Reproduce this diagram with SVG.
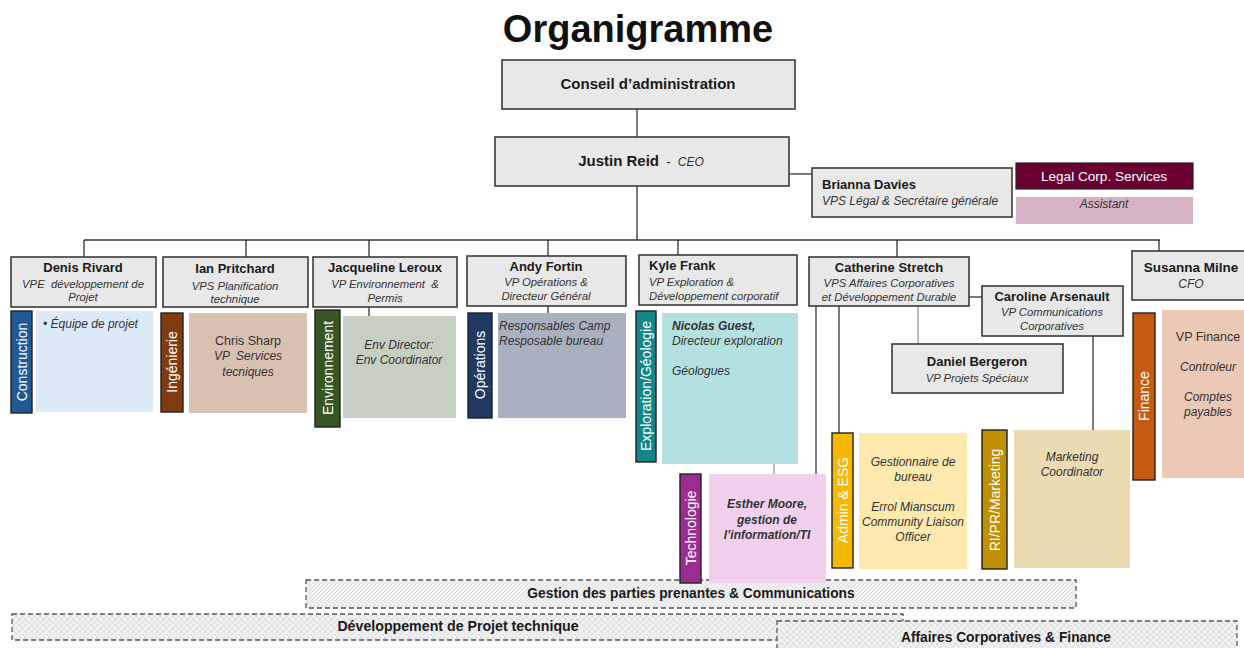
<svg xmlns="http://www.w3.org/2000/svg" width="1244" height="648" viewBox="0 0 1244 648">
<defs>
<pattern id="diag" width="4" height="4" patternUnits="userSpaceOnUse">
<rect width="4" height="4" fill="#f3f3f3"/>
<path d="M-1,1 l2,-2 M0,4 l4,-4 M3,5 l2,-2" stroke="#cfcfcf" stroke-width="0.7"/>
</pattern>
<pattern id="grid" width="6" height="6" patternUnits="userSpaceOnUse">
<rect width="6" height="6" fill="#f2f2f2"/>
<rect x="0" y="0" width="3" height="3" fill="#e2e2e2"/>
<rect x="3" y="3" width="3" height="3" fill="#e6e6e6"/>
</pattern>
</defs>
<style>
text{font-family:"Liberation Sans",Arial,sans-serif;fill:#1a1a1a}
.title{font-size:38px;font-weight:700;fill:#111}
.box{fill:#e8e8e8;stroke:#3a3a3a;stroke-width:1.6}
.nm{font-size:13px;font-weight:700}
.nl{font-size:15px;font-weight:700}
.sb{font-size:11.3px;font-style:italic;fill:#333}
.it{font-size:12px;font-style:italic;fill:#333}
.rg{font-size:12.5px;fill:#333}
.vl{font-size:14px;fill:#fff}
.tab{stroke:#222;stroke-width:1.4}
.band{stroke:#555;stroke-width:1.3;stroke-dasharray:5 3}
.bt{font-size:13.8px;font-weight:700}
.c{fill:none;stroke:#333;stroke-width:1.3}
.cg{fill:none;stroke:#777;stroke-width:1}
.mid{text-anchor:middle}
.pre{white-space:pre}
</style>
<rect width="1244" height="648" fill="#fff"/>
<text class="title mid" x="638" y="42">Organigramme</text>

<g id="bands">
<g id="band-gestion">
<rect class="band" x="306" y="580" width="770" height="28" fill="url(#diag)"/>
<text class="bt mid" x="691" y="598">Gestion des parties prenantes &amp; Communications</text>
</g>
<g id="band-dev">
<rect class="band" x="12" y="614" width="891" height="26" fill="url(#grid)"/>
<text class="bt mid" x="458" y="631" style="font-size:14.2px">Développement de Projet technique</text>
</g>
<g id="band-affaires">
<rect class="band" x="777" y="621" width="460" height="34" fill="url(#grid)"/>
<text class="bt mid" x="1006" y="642">Affaires Corporatives &amp; Finance</text>
</g>
</g>

<g id="connectors">
<path class="c" d="M637,109 V137"/>
<path class="c" d="M789,174 H812"/>
<path class="c" d="M637,186 V240"/>
<path class="c" d="M84,240 H1160"/>
<path class="c" d="M84,240 V257 M246,240 V257 M369,240 V257 M548,240 V256 M678,240 V255 M897,240 V257 M1159,240 V251"/>
<path class="c" d="M369,307 V316 M548,306 V313"/>
<path class="c" d="M969,297 H982"/>
<path class="cg" d="M918,306 V344"/>
<path class="c" d="M816,306 V475"/>
<path class="c" d="M839,306 V433"/>
<path class="c" d="M1093,336 V430"/>
<path class="cg" d="M774,464 V476"/>
</g>

<g id="conseil">
<rect class="box" x="502" y="60" width="293" height="49"/>
<text class="nl mid" x="648" y="89">Conseil d’administration</text>
</g>
<g id="ceo">
<rect class="box" x="495" y="137" width="294" height="49"/>
<text class="mid pre" x="641" y="166" xml:space="preserve"><tspan class="nl">Justin Reid</tspan><tspan font-size="13px">  -  </tspan><tspan class="it">CEO</tspan></text>
</g>
<g id="brianna">
<rect class="box" x="812" y="168" width="200" height="49"/>
<text class="nm" x="822" y="189">Brianna Davies</text>
<text class="it" x="822" y="205">VPS Légal &amp; Secrétaire générale</text>
</g>
<g id="legal">
<rect x="1016" y="163" width="177" height="26" fill="#6a0032" stroke="#222" stroke-width="1.2"/>
<text class="mid" x="1104" y="181" font-size="13.6px" style="fill:#fff">Legal Corp. Services</text>
</g>
<g id="assistant">
<rect x="1016" y="197" width="177" height="27" fill="#d5b2c4"/>
<text class="it mid" x="1104" y="208">Assistant</text>
</g>

<g id="denis">
<rect class="box" x="11" y="257" width="145" height="50"/>
<text class="nm mid" x="83" y="272">Denis Rivard</text>
<text class="sb mid pre" x="83" y="288" xml:space="preserve">VPE  développement de</text>
<text class="sb mid" x="83" y="301">Projet</text>
</g>
<g id="ian">
<rect class="box" x="163" y="257" width="145" height="50"/>
<text class="nm mid" x="235" y="273">Ian Pritchard</text>
<text class="sb mid" x="235" y="290">VPS Planification</text>
<text class="sb mid" x="235" y="303">technique</text>
</g>
<g id="jacqueline">
<rect class="box" x="313" y="257" width="144" height="50"/>
<text class="nm mid" x="385" y="272">Jacqueline Leroux</text>
<text class="sb mid pre" x="385" y="288" xml:space="preserve">VP Environnement  &amp;</text>
<text class="sb mid" x="385" y="302">Permis</text>
</g>
<g id="andy">
<rect class="box" x="467" y="256" width="159" height="50"/>
<text class="nm mid" x="546" y="271">Andy Fortin</text>
<text class="sb mid" x="546" y="286">VP Opérations &amp;</text>
<text class="sb mid" x="546" y="300">Directeur Général</text>
</g>
<g id="kyle">
<rect class="box" x="639" y="255" width="158" height="50"/>
<text class="nm" x="649" y="270">Kyle Frank</text>
<text class="sb" x="649" y="286">VP Exploration &amp;</text>
<text class="sb" x="649" y="300">Développement corporatif</text>
</g>
<g id="catherine">
<rect class="box" x="809" y="257" width="160" height="49"/>
<text class="nm mid" x="889" y="272">Catherine Stretch</text>
<text class="sb mid" x="889" y="287">VPS Affaires Corporatives</text>
<text class="sb mid" x="889" y="301">et Développement Durable</text>
</g>
<g id="caroline">
<rect class="box" x="982" y="286" width="141" height="50"/>
<text class="nm mid" x="1052" y="301">Caroline Arsenault</text>
<text class="sb mid" x="1052" y="316">VP Communications</text>
<text class="sb mid" x="1052" y="330">Corporatives</text>
</g>
<g id="daniel">
<rect class="box" x="892" y="344" width="171" height="49"/>
<text class="nm mid" x="977" y="366">Daniel Bergeron</text>
<text class="sb mid" x="977" y="382">VP Projets Spéciaux</text>
</g>
<g id="susanna">
<rect class="box" x="1132" y="251" width="122" height="49"/>
<text class="nm mid" x="1191" y="272" style="font-size:13.5px">Susanna Milne</text>
<text class="it mid" x="1191" y="288">CFO</text>
</g>

<g id="construction">
<rect class="tab" x="11" y="311" width="21" height="102" fill="#1f5a96"/>
<text class="vl mid" transform="translate(21.5,362) rotate(-90)" dy="5">Construction</text>
</g>
<g id="equipe">
<rect x="36" y="311" width="117" height="101" fill="#dce9f6"/>
<text class="it" x="43" y="328">• Équipe de projet</text>
</g>
<g id="ingenierie">
<rect class="tab" x="161" y="313" width="22" height="99" fill="#7f3c10"/>
<text class="vl mid" transform="translate(172,362) rotate(-90)" dy="5">Ingénierie</text>
</g>
<g id="chris">
<rect x="189" y="313" width="118" height="100" fill="#d8c1b1"/>
<text class="rg mid" x="248" y="345">Chris Sharp</text>
<text class="it mid pre" x="248" y="360" xml:space="preserve">VP  Services</text>
<text class="it mid" x="248" y="376">tecniques</text>
</g>
<g id="environnement">
<rect class="tab" x="315" y="310" width="25" height="117" fill="#375623"/>
<text class="vl mid" transform="translate(327.5,368) rotate(-90)" dy="5">Environnement</text>
</g>
<g id="env">
<rect x="343" y="316" width="113" height="102" fill="#c6cfc1"/>
<text class="it mid" x="399" y="349">Env Director:</text>
<text class="it mid" x="399" y="364">Env Coordinator</text>
</g>
<g id="operations">
<rect class="tab" x="468" y="313" width="24" height="105" fill="#1f3864"/>
<text class="vl mid" transform="translate(480,365) rotate(-90)" dy="5">Opérations</text>
</g>
<g id="responsables">
<rect x="498" y="313" width="128" height="105" fill="#a9b0bf"/>
<text class="it" x="499" y="330">Responsables Camp</text>
<text class="it" x="499" y="345">Resposable bureau</text>
</g>
<g id="exploration">
<rect class="tab" x="636" y="311" width="20" height="151" fill="#12878a"/>
<text class="vl mid" transform="translate(646,386) rotate(-90)" dy="5">Exploration/Géologie</text>
</g>
<g id="nicolas">
<rect x="662" y="313" width="136" height="151" fill="#b3e0e0"/>
<text class="it" x="672" y="330" style="font-weight:700">Nicolas Guest,</text>
<text class="it" x="672" y="345">Directeur exploration</text>
<text class="it" x="672" y="375">Géologues</text>
</g>
<g id="technologie">
<rect class="tab" x="680" y="474" width="21" height="109" fill="#9b2d91"/>
<text class="vl mid" transform="translate(690.5,528) rotate(-90)" dy="5">Technologie</text>
</g>
<g id="esther">
<rect x="709" y="474" width="117" height="109" fill="#f1d0ee"/>
<text class="it mid" x="767" y="508" style="font-weight:700">Esther Moore,</text>
<text class="it mid" x="767" y="524" style="font-weight:700">gestion de</text>
<text class="it mid" x="767" y="539" style="font-weight:700">l’information/TI</text>
</g>
<g id="admin">
<rect class="tab" x="832" y="433" width="21" height="135" fill="#f5b800"/>
<text class="vl mid" transform="translate(842.5,500) rotate(-90)" dy="5">Admin &amp; ESG</text>
</g>
<g id="gestionnaire">
<rect x="859" y="433" width="108" height="136" fill="#fde8ad"/>
<text class="it mid" x="913" y="466">Gestionnaire de</text>
<text class="it mid" x="913" y="481">bureau</text>
<text class="it mid" x="913" y="511">Errol Mianscum</text>
<text class="it mid" x="913" y="526">Community Liaison</text>
<text class="it mid" x="913" y="541">Officer</text>
</g>
<g id="marketing-tab">
<rect class="tab" x="982" y="430" width="25" height="139" fill="#bf9000"/>
<text class="vl mid" transform="translate(994.5,500) rotate(-90)" dy="5">RI/PR/Marketing</text>
</g>
<g id="marketing">
<rect x="1014" y="430" width="116" height="138" fill="#ebdbb2"/>
<text class="it mid" x="1072" y="461">Marketing</text>
<text class="it mid" x="1072" y="476">Coordinator</text>
</g>
<g id="finance-tab">
<rect class="tab" x="1133" y="313" width="22" height="167" fill="#c55a11"/>
<text class="vl mid" transform="translate(1144,396) rotate(-90)" dy="5">Finance</text>
</g>
<g id="finance">
<rect x="1162" y="310" width="90" height="168" fill="#ecc9b6"/>
<text class="rg mid" x="1208" y="341">VP Finance</text>
<text class="it mid" x="1208" y="371">Controleur</text>
<text class="it mid" x="1208" y="401">Comptes</text>
<text class="it mid" x="1208" y="416">payables</text>
</g>
</svg>
